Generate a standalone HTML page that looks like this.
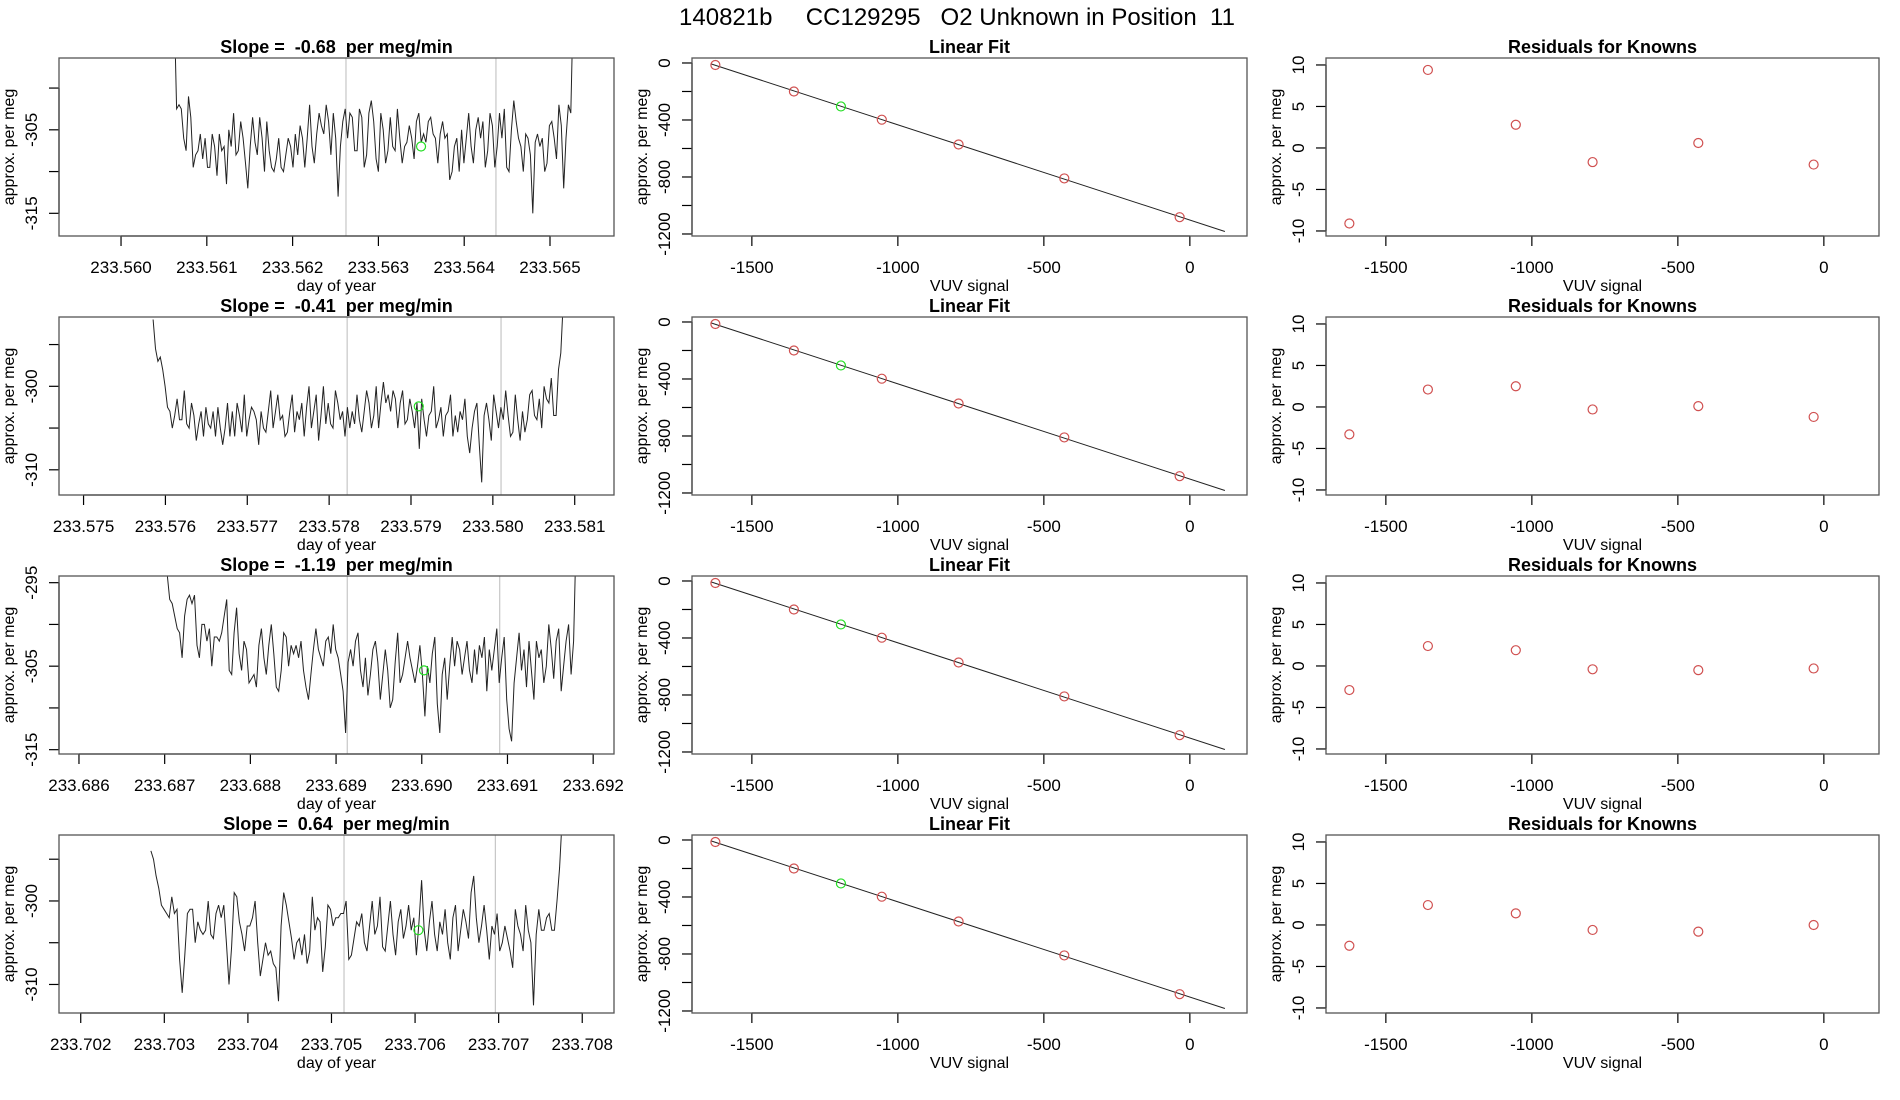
<!DOCTYPE html>
<html><head><meta charset="utf-8">
<style>
html,body{margin:0;padding:0;background:#fff;}
svg{display:block;font-family:"Liberation Sans",sans-serif;}
text{white-space:pre;}
</style></head>
<body>
<svg id="fig" width="1900" height="1100" viewBox="0 0 1900 1100">
<text x="957" y="25" font-size="24" text-anchor="middle">140821b     CC129295   O2 Unknown in Position  11</text>
</svg>
<script>
// ---------- data ----------
const slopeLabels = ["-0.68", "-0.41", "-1.19", "0.64"];
const timeStart = [233.56062, 233.57585, 233.68703, 233.70284];
const timeEnd = [233.56527, 233.58086, 233.6918, 233.70776];
const timeDomainMin = [233.559277, 233.574700, 233.685767, 233.701740];
const timeDomainMax = [233.565746, 233.581480, 233.692243, 233.708380];
const timeTicks = [
  ["233.560","233.561","233.562","233.563","233.564","233.565"],
  ["233.575","233.576","233.577","233.578","233.579","233.580","233.581"],
  ["233.686","233.687","233.688","233.689","233.690","233.691","233.692"],
  ["233.702","233.703","233.704","233.705","233.706","233.707","233.708"]
];
const signalYMax = [-296.4, -291.7, -294.2, -292.1];
const signalYTicks = [[-300,-305,-310,-315],[-295,-300,-305,-310],[-295,-300,-305,-310,-315],[-295,-300,-305,-310]];
const signalYLabels = [[-305,-315],[-300,-310],[-295,-305,-315],[-300,-310]];
const markerTimes = [[233.562622,233.56437],[233.57822,233.5801],[233.68913,233.69091],[233.70515,233.70696]];
const unknownTime = [233.563497, 233.579095, 233.690026, 233.70604];
const unknownValue = [-307, -302.4, -305.5, -303.5];
const signal1 = [-290,-302.5,-302,-302.5,-306,-307.5,-301,-303.5,-309.5,-308,-307.5,-305.5,-308.5,-306,-309.5,-309.5,-305.5,-307,-310.5,-305.5,-307.5,-307,-311.5,-305,-307,-303,-308,-307.5,-304,-306,-309,-312,-307,-303.5,-306.5,-308,-303.5,-306,-310,-304,-307.5,-309.5,-310,-308.5,-306,-309.5,-310,-308,-306,-307,-309.5,-305.5,-308,-304.5,-306,-309.5,-306,-302,-307,-309,-305.5,-303,-304.5,-305.5,-302,-304,-308,-303,-306,-313,-307,-304,-302.5,-306,-303,-303.5,-307.5,-307.5,-302.5,-303.5,-309.5,-308,-303,-301.5,-304,-308.5,-310,-303,-305,-309,-307.5,-303.5,-307,-307.5,-302.5,-306,-309,-307,-306.5,-304.5,-306,-308.5,-304,-303,-306.5,-305.5,-306.5,-304,-303.5,-305.5,-306,-309,-305.5,-304,-306,-305.5,-311,-310,-307,-306,-310,-305,-309,-306,-303,-307,-309,-305,-303.5,-306,-304,-309.5,-307.5,-303,-304.5,-309.5,-307,-303,-306,-302.5,-309.5,-310,-305,-301.5,-304,-306,-307,-310,-305.5,-306,-308,-315,-306.5,-305.5,-307,-306,-310,-309,-304.5,-304,-306,-308.5,-302,-304.5,-312,-306,-302,-303,-290];
const signal2 = [-292,-295.5,-297,-296.5,-298,-300,-302.5,-303,-305,-303.5,-301.5,-304,-304,-300.5,-304.5,-305,-302,-303.5,-306.5,-304.5,-303,-306,-302.5,-304.5,-305,-303,-306,-302.5,-305,-307,-305,-302,-306,-303,-306,-302,-303.5,-305.5,-301,-306,-304,-302.5,-303,-304,-307,-303,-305,-305.5,-303,-300.5,-305,-303,-301,-304,-303.5,-306,-305.5,-303,-301,-305.5,-303,-304,-302,-306,-302.5,-300,-305,-303,-301,-306.5,-303.5,-300,-304.5,-302,-304.5,-305,-300.5,-302,-304,-303,-306,-302.5,-305,-303,-304.5,-301,-304,-305.5,-303,-300.5,-302,-305,-303.5,-300,-305,-302,-299.5,-302,-301,-303,-300.5,-301.5,-305,-302,-300.5,-304.5,-304,-301.5,-303,-305,-302,-307.5,-301.5,-304,-306,-303.5,-303,-300,-305,-304,-302.5,-306,-303.5,-303,-301,-306,-303.5,-305.5,-303,-304,-301.5,-306,-308,-305,-303,-302,-307,-311.5,-303.5,-302,-304,-306.5,-301,-303,-305,-302.5,-304,-300.5,-303.5,-306,-305.5,-301,-304,-306.5,-303,-305.5,-304,-301,-300.5,-303.5,-304,-301.5,-305,-300,-301.5,-302,-299,-303.5,-303.5,-298,-296,-290];
const signal3 = [-294,-297,-297.5,-299,-300.5,-301,-304,-299,-297,-296.5,-297.5,-296.5,-302.5,-304,-300,-300,-302,-300.5,-305,-301.5,-301.5,-302,-301,-299,-297,-305.5,-306,-301,-298,-303.5,-305.5,-302,-303,-307,-306.5,-306,-307.5,-302.5,-300.5,-304,-306,-302.5,-300,-303.5,-307.5,-308,-305.5,-301,-301.5,-305,-302.5,-303.5,-302.5,-304,-302,-305.5,-307.5,-309,-306,-303,-300.5,-303,-304,-305,-302,-301.5,-303.5,-300,-303,-304,-306,-308,-313,-304.5,-303,-305,-302,-301,-305.5,-307.5,-304,-308.5,-306,-303,-302,-304.5,-309,-306,-303,-305.5,-310,-309,-304.5,-301,-307,-306,-304,-302,-304,-305.5,-307,-305,-302.5,-306,-311,-305,-307,-303.5,-301.5,-309.5,-313,-306,-304,-309,-305,-301.5,-305,-302,-303,-306,-304,-302,-305.5,-307,-303,-306,-302.5,-304,-301.5,-308,-303,-305.5,-303,-300.5,-307,-304,-301.5,-309,-312.5,-314,-307,-304,-301,-305.5,-303,-307.5,-302,-305.5,-309,-302,-304,-303,-307,-305,-300,-303,-306.5,-302,-300.5,-308,-305,-302,-300,-306,-302,-290];
const signal4 = [-294,-295,-297,-298.5,-300.5,-301,-301.5,-302,-299.5,-301.5,-301,-307,-311,-306.5,-301.5,-301,-301,-305,-302.5,-303.5,-304,-303.5,-300,-304,-304.5,-301.5,-300.5,-302,-300.5,-305,-310,-305.5,-299,-299.5,-302.5,-304,-306,-303,-303,-302,-300,-305,-309,-307,-305,-306.5,-306,-307.5,-308,-312,-303,-299,-300.5,-302.5,-304.5,-307,-305,-304.5,-306.5,-304,-307.5,-306,-299.5,-303.5,-302,-302.5,-308.5,-305.5,-300.5,-301,-303,-302,-302,-301.5,-301.5,-300,-307,-306.5,-304.5,-302.5,-303,-301.5,-305,-306,-303,-300,-304,-303,-299.5,-305.5,-306,-303,-300,-304,-306.5,-302.5,-301,-304.5,-303,-300.5,-303.5,-302,-306.5,-302.5,-297.5,-303.5,-306,-302.5,-300,-304,-306,-302.5,-304,-301,-305,-307,-302,-300.5,-306,-303.5,-301,-302.5,-304.5,-299,-297,-302,-305,-303,-300.5,-303.5,-307,-303,-304,-301.5,-306,-305,-303,-304.5,-306,-308,-301,-303,-304,-306,-300.5,-303.5,-305,-312.5,-304,-301,-303.5,-303.5,-302,-301.5,-303.5,-303.5,-300,-296,-290];
const signals = [signal1, signal2, signal3, signal4];

const vuvKnown = [-1625, -1356, -1055, -792, -430, -35];
const vuvUnknown = -1195;
const permegKnown = [-14, -200, -398, -572, -810, -1082];
const permegUnknown = -305;
const fitXRange = [-1640, 120];
const fitTicksX = [-1500, -1000, -500, 0];
const fitTicksY = [0, -200, -400, -600, -800, -1000, -1200];
const fitLabelsY = [0, -400, -800, -1200];
const resid1 = [-9.1, 9.4, 2.8, -1.7, 0.6, -2.0];
const resid2 = [-3.3, 2.1, 2.5, -0.3, 0.1, -1.2];
const resid3 = [-2.9, 2.4, 1.9, -0.4, -0.5, -0.3];
const resid4 = [-2.5, 2.4, 1.4, -0.6, -0.8, 0.0];
const residuals = [resid1, resid2, resid3, resid4];
const residTicksY = [10, 5, 0, -5, -10];

// ---------- drawing ----------
const NS = "http://www.w3.org/2000/svg";
const svg = document.getElementById("fig");
function mk(tag, attrs, parent) {
  const e = document.createElementNS(NS, tag);
  for (const k in attrs) e.setAttribute(k, attrs[k]);
  (parent || svg).appendChild(e);
  return e;
}
function scale(d0, d1, r0, r1) { return v => r0 + (v - d0) / (d1 - d0) * (r1 - r0); }

const colLeft = [59, 692, 1326];
const colW = [555, 555, 553];
const H = 178;

function frame(g, L, T, W, title, xlab, name) {
  const b = mk("rect", {x: L, y: T, width: W, height: H, fill: "none", stroke: "#555", "stroke-width": 1.3}, g);
  
  
  const t = mk("text", {x: L + W / 2, y: T - 5, "font-size": 18, "font-weight": "bold", "text-anchor": "middle"}, g);
  t.textContent = title;
  
  
  const xl = mk("text", {x: L + W / 2, y: T + H + 55, "font-size": 16, "text-anchor": "middle"}, g);
  xl.textContent = xlab;
  
  
  const yl = mk("text", {transform: `translate(${L - 45},${T + H / 2}) rotate(-90)`, "font-size": 16, "text-anchor": "middle"}, g);
  yl.textContent = "approx. per meg";
  
  
}
function xAxis(g, xs, vals, labels, B, name) {
  const ax = mk("g", {}, g);
  
  
  const p0 = xs(vals[0]), p1 = xs(vals[vals.length - 1]);
  mk("line", {x1: p0, x2: p1, y1: B, y2: B, stroke: "#000", "stroke-width": 1.3}, ax);
  vals.forEach((v, i) => {
    const p = xs(v);
    mk("line", {x1: p, x2: p, y1: B, y2: B + 10, stroke: "#000", "stroke-width": 1.2}, ax);
    const t = mk("text", {x: p, y: B + 37, "font-size": 17, "text-anchor": "middle"}, ax);
    t.textContent = labels[i];
    
    
  });
}
function yAxis(g, ys, vals, labels, L, name) {
  const ax = mk("g", {}, g);
  
  
  mk("line", {x1: L, x2: L, y1: ys(vals[0]), y2: ys(vals[vals.length - 1]), stroke: "#000", "stroke-width": 1.3}, ax);
  vals.forEach(v => {
    const p = ys(v);
    mk("line", {x1: L - 10, x2: L, y1: p, y2: p, stroke: "#000", "stroke-width": 1.2}, ax);
  });
  labels.forEach(v => {
    const t = mk("text", {transform: `translate(${L - 22},${ys(v)}) rotate(-90)`, "font-size": 17, "text-anchor": "middle"}, ax);
    t.textContent = String(v);
    
    
  });
}

// least-squares fit of knowns
const n = vuvKnown.length;
const mx = vuvKnown.reduce((a, b) => a + b, 0) / n;
const my = permegKnown.reduce((a, b) => a + b, 0) / n;
let sxy = 0, sxx = 0;
for (let i = 0; i < n; i++) { sxy += (vuvKnown[i] - mx) * (permegKnown[i] - my); sxx += (vuvKnown[i] - mx) ** 2; }
const fitSlope = sxy / sxx, fitIntercept = my - fitSlope * mx;

for (let r = 0; r < 4; r++) {
  const T = 58 + 259 * r, B = T + H;
  // ---- left time series ----
  {
    const L = colLeft[0], W = colW[0];
    const g = mk("g", {});
    
    
    const xs = scale(timeDomainMin[r], timeDomainMax[r], L, L + W);
    const ys = scale(signalYMax[r], signalYMax[r] - H / 8.35, T, B);
    const cp = mk("clipPath", {id: "clip" + r}, g);
    mk("rect", {x: L, y: T, width: W, height: H}, cp);
    markerTimes[r].forEach(t => {
      const ln = mk("line", {x1: xs(t), x2: xs(t), y1: T, y2: B, stroke: "#bbb", "stroke-width": 1}, g);
      
      
    });
    const vals = signals[r];
    const dt = (timeEnd[r] - timeStart[r]) / (vals.length - 1);
    const pts = vals.map((v, i) => xs(timeStart[r] + i * dt).toFixed(1) + "," + ys(v).toFixed(1)).join(" ");
    const pl = mk("polyline", {points: pts, fill: "none", stroke: "#222", "stroke-width": 1, "clip-path": `url(#clip${r})`}, g);
    
    
    const c = mk("circle", {cx: xs(unknownTime[r]), cy: ys(unknownValue[r]), r: 4.5, fill: "none", stroke: "#22dd22", "stroke-width": 1.2}, g);
    
    
    const tickVals = timeTicks[r].map(Number);
    xAxis(g, xs, tickVals, timeTicks[r], B, 'time-series');
    yAxis(g, ys, signalYTicks[r], signalYLabels[r], L, 'time-series');
    frame(g, L, T, W, "Slope =  " + slopeLabels[r] + "  per meg/min", "day of year", 'time-series');
  }
  // ---- middle linear fit ----
  {
    const L = colLeft[1], W = colW[1];
    const g = mk("g", {});
    
    
    const xs = scale(-1705, -1705 + W / 0.292, L, L + W);
    const ys = scale(35, 35 - H / 0.1425, T, B);
    const fl = mk("line", {x1: xs(fitXRange[0]), y1: ys(fitIntercept + fitSlope * fitXRange[0]), x2: xs(fitXRange[1]), y2: ys(fitIntercept + fitSlope * fitXRange[1]), stroke: "#222", "stroke-width": 1}, g);
    
    
    vuvKnown.forEach((v, i) => {
      const c = mk("circle", {cx: xs(v), cy: ys(permegKnown[i]), r: 4.5, fill: "none", stroke: "#d05050", "stroke-width": 1.2}, g);
      
      
    });
    const cu = mk("circle", {cx: xs(vuvUnknown), cy: ys(permegUnknown), r: 4.5, fill: "none", stroke: "#22dd22", "stroke-width": 1.2}, g);
    
    
    xAxis(g, xs, fitTicksX, fitTicksX.map(String), B, 'linear-fit');
    yAxis(g, ys, fitTicksY, fitLabelsY, L, 'linear-fit');
    frame(g, L, T, W, "Linear Fit", "VUV signal", 'linear-fit');
  }
  // ---- right residuals ----
  {
    const L = colLeft[2], W = colW[2];
    const g = mk("g", {});
    
    
    const xs = scale(-1705, -1705 + W / 0.292, L, L + W);
    const ys = scale(10.84, 10.84 - H / 8.3, T, B);
    residuals[r].forEach((v, i) => {
      const c = mk("circle", {cx: xs(vuvKnown[i]), cy: ys(v), r: 4.5, fill: "none", stroke: "#d05050", "stroke-width": 1.2}, g);
      
      
    });
    xAxis(g, xs, fitTicksX, fitTicksX.map(String), B, 'residuals');
    yAxis(g, ys, residTicksY, residTicksY, L, 'residuals');
    frame(g, L, T, W, "Residuals for Knowns", "VUV signal", 'residuals');
  }
}
</script>
</body></html>
